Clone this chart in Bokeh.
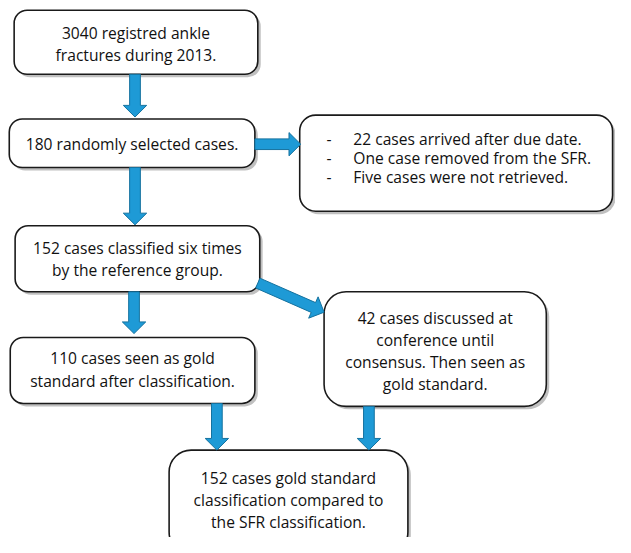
from bokeh.plotting import figure
from bokeh.models import Range1d, ColumnDataSource
from bokeh.core.properties import value
from bokeh.embed import file_html
from bokeh.resources import INLINE
import math

# ---- content ----
box_texts = [
    ["3040 registred ankle", "fractures during 2013."],
    ["180 randomly selected cases."],
    ["22 cases arrived after due date.", "One case removed from the SFR.", "Five cases were not retrieved."],
    ["152 cases classified six times", "by the reference group."],
    ["110 cases seen as gold", "standard after classification."],
    ["42 cases discussed at", "conference until", "consensus. Then seen as", "gold standard."],
    ["152 cases gold standard", "classification compared to", "the SFR classification."],
]
bullet_box = 2
# flow links: (from box, to box)
links = [(0, 1), (1, 2), (1, 3), (3, 4), (3, 5), (4, 6), (5, 6)]

# ---- layout (pixel space of the reference picture) ----
# left, right, top, bottom, corner radius
boxes = [
    (14, 264, 10, 76, 13),
    (9, 261, 122, 172, 13),
    (307, 628, 118, 217, 16),
    (15, 266, 232, 300, 13),
    (10, 261, 347, 415, 13),
    (332, 560, 300, 418, 22),
    (173, 418, 463, 570, 22),
]
line_gap = [23, 0, 19.5, 23, 23, 22.7, 22.7]
text_cy = [44.5, 148, 162.5, 266, 380, 361, 514.5]
arrow_pts = [
    ((138, 76), (138, 120)),
    ((261, 148), (308, 148)),
    ((138, 172), (138, 231)),
    ((137, 300), (137, 343)),
    ((264, 291), (332, 321)),
    ((222, 415), (222, 463)),
    ((378, 418), (378, 463)),
]

FONT = "Open Sans"
FS = "15.6px"

p = figure(width=615, height=537, x_range=Range1d(0, 631), y_range=Range1d(553, 0),
           output_backend="svg", toolbar_location=None,
           x_axis_location=None, y_axis_location=None, min_border=0)
p.xgrid.visible = False
p.ygrid.visible = False
p.outline_line_color = None
p.background_fill_color = "white"

# shadows
for (l, r, t, b, rad) in boxes:
    p.quad(left=l + 3, right=r + 3, top=t + 3, bottom=b + 3, border_radius=rad,
           fill_color="#8c8c8c", fill_alpha=0.55, line_color=None)
# boxes
for (l, r, t, b, rad) in boxes:
    p.quad(left=l, right=r, top=t, bottom=b, border_radius=rad,
           fill_color="white", line_color="#1a1a1a", line_width=1.6)

def arrow_poly(p0, p1, w=5.5, h=12, L=12):
    dx, dy = p1[0] - p0[0], p1[1] - p0[1]
    n = math.hypot(dx, dy)
    ux, uy = dx / n, dy / n
    nx, ny = -uy, ux
    nkx, nky = p1[0] - ux * L, p1[1] - uy * L
    pts = [
        (p0[0] + nx * w, p0[1] + ny * w),
        (nkx + nx * w, nky + ny * w),
        (nkx + nx * h, nky + ny * h),
        p1,
        (nkx - nx * h, nky - ny * h),
        (nkx - nx * w, nky - ny * w),
        (p0[0] - nx * w, p0[1] - ny * w),
    ]
    return [q[0] for q in pts], [q[1] for q in pts]

xs, ys = [], []
for (a, b) in arrow_pts:
    x, y = arrow_poly(a, b)
    xs.append(x)
    ys.append(y)
p.patches(xs=xs, ys=ys, fill_color="#1e9ad6", line_color="#15729f", line_width=1)

# texts
cx, cy, ct = [], [], []
bx, by, bt = [], [], []
for i, lines in enumerate(box_texts):
    l, r, t, b, rad = boxes[i]
    n = len(lines)
    for k, s in enumerate(lines):
        yy = text_cy[i] + (k - (n - 1) / 2) * line_gap[i]
        if i == bullet_box:
            bx.append(362); by.append(yy); bt.append(s)
            bx.append(337); by.append(yy); bt.append("-")
        else:
            cx.append((l + r) / 2); cy.append(yy); ct.append(s)

p.text(x=cx, y=cy, text=ct, text_align="center", text_baseline="middle",
       text_font=value(FONT), text_font_size=FS, text_color="#111111")
src_b = ColumnDataSource(dict(x=bx, y=by, t=bt, a=["left" if s != "-" else "center" for s in bt]))
p.text(x="x", y="y", text="t", source=src_b, text_align="a", text_baseline="middle",
       text_font=value(FONT), text_font_size=FS, text_color="#111111")

open("out.html", "w").write(file_html(p, INLINE))
